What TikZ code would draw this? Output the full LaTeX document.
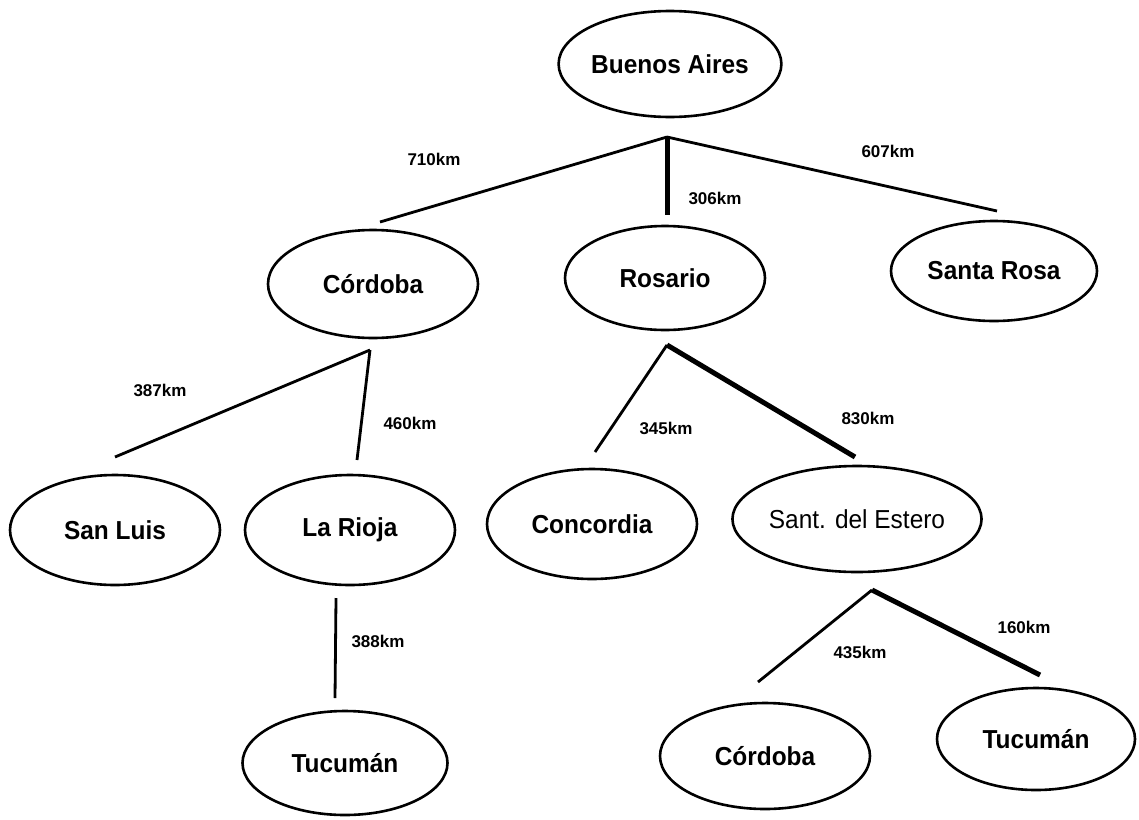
\documentclass[tikz,border=0pt]{standalone}
\usepackage{fontspec}
\setmainfont{Liberation Sans}[FakeStretch=0.94]
\newfontfamily\kmfont{Liberation Sans}
\usetikzlibrary{shapes.geometric}

\begin{document}
\begin{tikzpicture}[x=1pt, y=-1pt,
  ciudad/.style={draw, ellipse, line width=2.6pt, minimum width=210pt, minimum height=106pt, inner sep=0pt, font=\fontsize{26}{30}\selectfont\bfseries},
  ruta/.style={line width=2.8pt},
  rutagruesa/.style={line width=5pt},
  dist/.style={font=\kmfont\fontsize{17}{20}\selectfont\bfseries, inner sep=0pt}]

\useasboundingbox (0,0) rectangle (1139,819);

% Ciudades
\node[ciudad] (ba) at (670,64) {Buenos Aires};
\node[ciudad, minimum height=108pt] (cba) at (373,284) {Córdoba};
\node[ciudad, minimum width=200pt, minimum height=104pt] (ros) at (665,278) {Rosario};
\node[ciudad, minimum width=206pt, minimum height=100pt] (sr) at (994,271) {Santa Rosa};
\node[ciudad, minimum height=110pt] (sl) at (115,530) {San Luis};
\node[ciudad, minimum height=110pt] (lr) at (350,530) {La Rioja};
\node[ciudad, minimum height=110pt] (conc) at (592,524) {Concordia};
\node[ciudad, font=\fontsize{26}{30}\selectfont] (sde) at (857,519) {Sant. del Estero};
\node[ciudad, minimum width=205pt, minimum height=104pt] (tuc1) at (345,763) {Tucumán};
\node[ciudad] (cba2) at (765,756) {Córdoba};
\node[ciudad, minimum width=198pt, minimum height=102pt] (tuc2) at (1036,739) {Tucumán};

% Rutas desde Buenos Aires
\coordinate (hubBA) at (667,137);
\coordinate (finCba) at (380,222);
\coordinate (finRos) at (667,215);
\coordinate (finSR) at (997,211);
\draw[ruta] (hubBA) -- (finCba);
\draw[rutagruesa] (hubBA) -- (finRos);
\draw[ruta] (hubBA) -- (finSR);
\node[dist] (d710) at (434,159) {710km};
\node[dist] (d306) at (715,198) {306km};
\node[dist] (d607) at (888,151) {607km};

% Rutas desde Cordoba
\coordinate (hubCba) at (370,350);
\coordinate (finSL) at (115,457);
\coordinate (finLR) at (357,460);
\draw[ruta] (hubCba) -- (finSL);
\draw[ruta] (hubCba) -- (finLR);
\node[dist] (d387) at (160,390) {387km};
\node[dist] (d460) at (410,423) {460km};

% La Rioja - Tucuman
\coordinate (iniLR) at (336,598);
\coordinate (finTuc) at (335,698);
\draw[ruta] (iniLR) -- (finTuc);
\node[dist] (d388) at (378,641) {388km};

% Rutas desde Rosario
\coordinate (hubRos) at (667,345);
\coordinate (finConc) at (595,452);
\coordinate (finSdE) at (855,457);
\draw[ruta] (hubRos) -- (finConc);
\draw[rutagruesa] (hubRos) -- (finSdE);
\node[dist] (d345) at (666,428) {345km};
\node[dist] (d830) at (868,418) {830km};

% Rutas desde Sant. del Estero
\coordinate (hubSdE) at (872,590);
\coordinate (finCba2) at (758,682);
\coordinate (finTuc2) at (1040,675);
\draw[ruta] (hubSdE) -- (finCba2);
\draw[rutagruesa] (hubSdE) -- (finTuc2);
\node[dist] (d435) at (860,652) {435km};
\node[dist] (d160) at (1024,627) {160km};

\end{tikzpicture}
\end{document}
